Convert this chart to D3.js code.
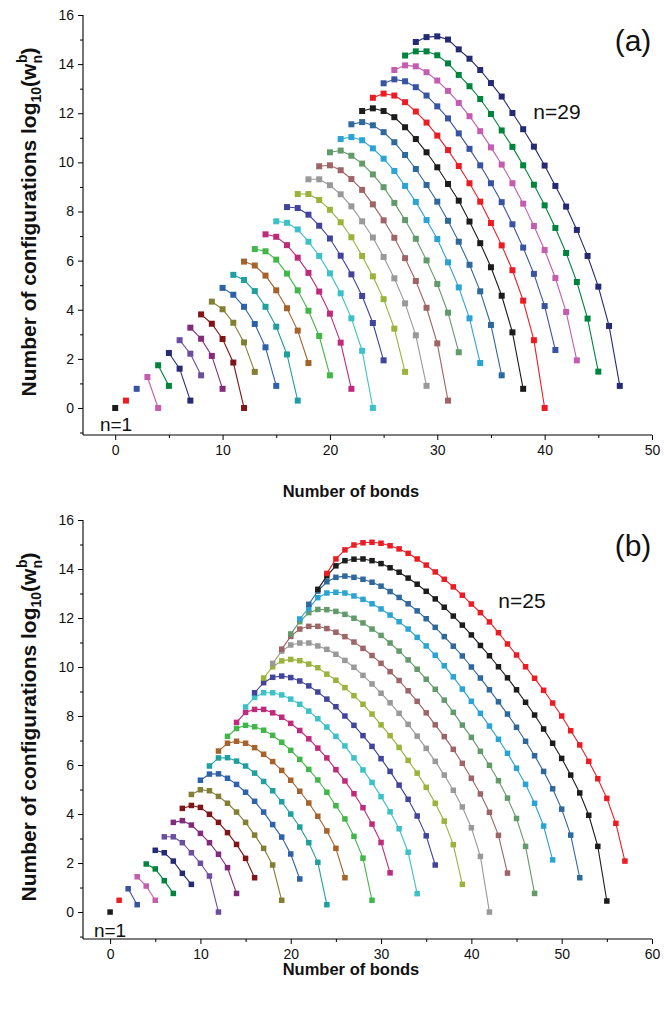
<!DOCTYPE html>
<html>
<head>
<meta charset="utf-8">
<script src="https://cdn.jsdelivr.net/npm/d3@7"></script>
<style>
  body { margin: 0; background: #fff; }
  svg { display: block; font-family: "Liberation Sans", Arial, sans-serif; }
</style>
</head>
<body>
<svg id="chart" width="664" height="1010"></svg>
<script>
// Colour cycle used for consecutive cluster sizes n = 1, 2, 3, ...
const palette = ["#1c1c1c", "#ed1c24", "#3953a4", "#c45cb0", "#00843d", "#252a74",
  "#6a4fa0", "#822a7c", "#7f1518", "#827f34", "#2e62a8", "#1fa09e", "#a5622a",
  "#41b649", "#bf2a7a", "#3cc1c8", "#40449a", "#99b33b", "#999999", "#9e6466",
  "#639a6a", "#2aa4d4", "#2f689c"];

// ---------- (a) square lattice, n = 1 ... 29 ----------
const sizesA = d3.range(1, 30);
const firstBondA = [0, 1, 2, 3, 4, 5, 6, 7, 8, 9, 10, 11, 12, 13, 14, 15, 16, 17, 18, 19,
  20, 21, 22, 23, 24, 25, 26, 27, 28];
const logCountsA = [
  [0],
  [0.30],
  [0.78],
  [1.26, 0],
  [1.74, 0.90],
  [2.24, 1.60, 0.30],
  [2.76, 2.21, 1.33],
  [3.27, 2.82, 2.12, 0.78],
  [3.81, 3.43, 2.81, 1.85, 0],
  [4.33, 4.02, 3.47, 2.67, 1.47],
  [4.89, 4.61, 4.12, 3.42, 2.47, 0.90],
  [5.42, 5.21, 4.76, 4.12, 3.31, 2.18, 0.30],
  [5.96, 5.80, 5.39, 4.79, 4.06, 3.15, 1.83],
  [6.47, 6.38, 6.04, 5.47, 4.79, 3.96, 2.93, 1.33],
  [7.07, 6.97, 6.63, 6.12, 5.50, 4.74, 3.84, 2.66, 0.78],
  [7.60, 7.54, 7.27, 6.77, 6.19, 5.48, 4.67, 3.65, 2.33, 0],
  [8.18, 8.14, 7.87, 7.42, 6.90, 6.20, 5.44, 4.56, 3.46, 1.94],
  [8.71, 8.71, 8.47, 8.07, 7.56, 6.95, 6.19, 5.36, 4.43, 3.23, 1.47],
  [9.31, 9.31, 9.07, 8.70, 8.21, 7.60, 6.94, 6.15, 5.28, 4.26, 2.96, 0.90],
  [9.84, 9.88, 9.68, 9.32, 8.88, 8.29, 7.64, 6.93, 6.10, 5.17, 4.08, 2.63, 0.30],
  [10.41, 10.48, 10.27, 9.95, 9.51, 8.99, 8.35, 7.65, 6.89, 6.01, 5.05, 3.88, 2.27],
  [10.95, 11.03, 10.90, 10.57, 10.15, 9.65, 9.04, 8.39, 7.65, 6.88, 5.93, 4.91, 3.65, 1.83],
  [11.55, 11.64, 11.51, 11.23, 10.82, 10.30, 9.73, 9.08, 8.40, 7.62, 6.77, 5.83, 4.75, 3.38, 1.33],
  [12.09, 12.20, 12.09, 11.84, 11.43, 10.95, 10.41, 9.80, 9.12, 8.44, 7.59, 6.71, 5.73, 4.57, 3.08, 0.78],
  [12.63, 12.80, 12.72, 12.45, 12.07, 11.62, 11.09, 10.50, 9.85, 9.15, 8.40, 7.53, 6.62, 5.61, 4.37, 2.76, 0],
  [13.22, 13.38, 13.30, 13.06, 12.72, 12.28, 11.79, 11.18, 10.55, 9.88, 9.15, 8.38, 7.48, 6.53, 5.46, 4.15, 2.36],
  [13.76, 13.95, 13.91, 13.67, 13.33, 12.91, 12.42, 11.88, 11.27, 10.61, 9.91, 9.15, 8.32, 7.41, 6.43, 5.29, 3.91, 1.94],
  [14.35, 14.52, 14.52, 14.36, 14.03, 13.56, 13.10, 12.58, 11.97, 11.30, 10.63, 9.88, 9.09, 8.25, 7.33, 6.31, 5.13, 3.64, 1.48],
  [14.90, 15.10, 15.13, 15.00, 14.60, 14.22, 13.76, 13.23, 12.68, 12.01, 11.35, 10.64, 9.87, 9.04, 8.20, 7.25, 6.19, 4.94, 3.34, 0.90]
];
const xTicksA = [0, 10, 20, 30, 40, 50];

// ---------- (b) triangular lattice, n = 1 ... 25 ----------
const sizesB = d3.range(1, 26);
const firstBondB = [0, 1, 2, 3, 4, 5, 6, 7, 8, 9, 10, 11, 12, 13, 14, 15, 16, 17, 18, 19,
  20, 21, 22, 23, 24];
const logCountsB = [
  [0],
  [0.48],
  [0.95, 0.30],
  [1.44, 1.06, 0.48],
  [1.96, 1.76, 1.28, 0.76],
  [2.52, 2.42, 2.08, 1.58, 1.13],
  [3.07, 3.07, 2.83, 2.42, 1.99, 1.47, 0],
  [3.66, 3.73, 3.55, 3.21, 2.83, 2.36, 1.81, 0.76],
  [4.23, 4.35, 4.27, 3.99, 3.66, 3.24, 2.76, 2.19, 1.40],
  [4.80, 4.99, 4.95, 4.72, 4.44, 4.08, 3.66, 3.14, 2.60, 1.92, 0.48],
  [5.38, 5.63, 5.64, 5.46, 5.21, 4.89, 4.52, 4.08, 3.57, 3.06, 2.37, 1.35],
  [5.96, 6.29, 6.30, 6.16, 5.96, 5.67, 5.33, 4.95, 4.50, 4.00, 3.47, 2.83, 2.03, 0.30],
  [6.57, 6.89, 6.97, 6.89, 6.71, 6.44, 6.14, 5.78, 5.38, 4.93, 4.45, 3.91, 3.31, 2.60, 1.40],
  [7.17, 7.49, 7.62, 7.56, 7.42, 7.21, 6.93, 6.60, 6.23, 5.82, 5.39, 4.89, 4.34, 3.80, 3.09, 2.20, 0.48],
  [7.74, 8.15, 8.27, 8.27, 8.13, 7.95, 7.70, 7.41, 7.07, 6.69, 6.29, 5.81, 5.35, 4.83, 4.26, 3.59, 2.84, 1.60],
  [8.37, 8.76, 8.95, 8.95, 8.86, 8.69, 8.48, 8.20, 7.89, 7.55, 7.17, 6.78, 6.29, 5.80, 5.29, 4.71, 4.09, 3.40, 2.44, 0.75],
  [8.95, 9.36, 9.58, 9.63, 9.57, 9.43, 9.23, 8.98, 8.69, 8.38, 8.00, 7.62, 7.20, 6.76, 6.26, 5.74, 5.18, 4.60, 3.92, 3.11, 1.92],
  [9.55, 10.01, 10.25, 10.31, 10.26, 10.12, 9.97, 9.71, 9.46, 9.16, 8.83, 8.48, 8.08, 7.64, 7.20, 6.72, 6.19, 5.67, 5.09, 4.44, 3.71, 2.75, 1.13],
  [10.15, 10.65, 10.90, 10.98, 10.98, 10.86, 10.72, 10.52, 10.27, 9.99, 9.66, 9.31, 8.93, 8.54, 8.11, 7.66, 7.18, 6.68, 6.15, 5.59, 4.97, 4.29, 3.44, 2.27, 0],
  [10.73, 11.25, 11.55, 11.66, 11.66, 11.57, 11.42, 11.24, 11.02, 10.76, 10.47, 10.15, 9.81, 9.45, 9.03, 8.60, 8.13, 7.64, 7.16, 6.64, 6.07, 5.46, 4.82, 4.07, 3.13, 1.59],
  [11.35, 11.85, 12.22, 12.35, 12.34, 12.27, 12.15, 11.99, 11.80, 11.55, 11.29, 10.98, 10.65, 10.29, 9.91, 9.50, 9.09, 8.65, 8.15, 7.63, 7.13, 6.56, 5.99, 5.36, 4.65, 3.82, 2.68, 0.76],
  [11.96, 12.40, 12.83, 13.02, 13.05, 13.02, 12.90, 12.76, 12.58, 12.37, 12.12, 11.85, 11.55, 11.21, 10.86, 10.48, 10.05, 9.60, 9.10, 8.60, 8.11, 7.59, 7.05, 6.48, 5.87, 5.21, 4.44, 3.51, 2.13],
  [12.56, 13.10, 13.48, 13.66, 13.71, 13.66, 13.58, 13.46, 13.30, 13.08, 12.84, 12.58, 12.29, 11.97, 11.62, 11.24, 10.85, 10.45, 10.00, 9.55, 9.07, 8.58, 8.08, 7.54, 6.97, 6.38, 5.74, 5.03, 4.20, 3.14, 1.40],
  [13.17, 13.72, 14.13, 14.34, 14.40, 14.41, 14.34, 14.22, 14.05, 13.87, 13.63, 13.38, 13.09, 12.78, 12.44, 12.08, 11.71, 11.31, 10.88, 10.46, 10.01, 9.56, 9.07, 8.56, 8.04, 7.47, 6.89, 6.27, 5.59, 4.86, 3.95, 2.68, 0.45],
  [13.82, 14.41, 14.78, 14.98, 15.07, 15.09, 15.05, 14.95, 14.82, 14.64, 14.41, 14.16, 13.88, 13.58, 13.27, 12.93, 12.57, 12.22, 11.84, 11.40, 10.94, 10.49, 10.01, 9.54, 9.05, 8.53, 8.00, 7.40, 6.82, 6.15, 5.44, 4.64, 3.62, 2.08]
];
const xTicksB = [0, 10, 20, 30, 40, 50, 60];

const yTicks = [0, 2, 4, 6, 8, 10, 12, 14, 16];

const svg = d3.select("#chart");

function drawPanel(cfg) {
  const g = svg.append("g");
  const x = d3.scaleLinear().domain(cfg.xDomain).range(cfg.xRange);
  const y = d3.scaleLinear().domain(cfg.yDomain).range(cfg.yRange);
  const [x0, x1] = cfg.xRange;
  const [yb, yt] = cfg.yRange;

  // minor ticks
  const xMinor = d3.range(0, cfg.xDomain[1] + 0.01, 5).filter(v => !cfg.xTicks.includes(v));
  const yMinor = d3.range(-1, 16.01, 1).filter(v => !yTicks.includes(v));

  const xAxis = g.append("g").attr("transform", `translate(0,${yb})`)
    .call(d3.axisBottom(x).tickValues(cfg.xTicks).tickSize(5).tickPadding(5).tickFormat(d3.format("d")));
  g.append("g").attr("transform", `translate(0,${yb})`)
    .call(d3.axisBottom(x).tickValues(xMinor).tickSize(3).tickFormat(""))
    .select(".domain").remove();
  const yAxis = g.append("g").attr("transform", `translate(${x0},0)`)
    .call(d3.axisLeft(y).tickValues(yTicks).tickSize(5).tickPadding(4).tickFormat(d3.format("d")));
  g.append("g").attr("transform", `translate(${x0},0)`)
    .call(d3.axisLeft(y).tickValues(yMinor).tickSize(3).tickFormat(""))
    .select(".domain").remove();

  g.selectAll(".domain").attr("stroke", "#000").attr("stroke-width", 1.1);
  xAxis.select(".domain").attr("d", `M${x0},0H${x1}`);
  yAxis.select(".domain").attr("d", `M0,${yb}V${yt}`);
  g.selectAll(".tick line").attr("stroke", "#000").attr("stroke-width", 1);
  g.selectAll(".tick text").attr("font-size", 14).attr("fill", "#111")
    .attr("font-family", "Liberation Sans, Arial, sans-serif");

  // series: one polyline with square markers per cluster size
  const s = cfg.marker;
  cfg.values.forEach((vals, i) => {
    const pts = vals.map((v, k) => [cfg.firstBond[i] + k, v]);
    const color = palette[i % palette.length];
    const sg = g.append("g").attr("class", "series n" + cfg.sizes[i]);
    sg.append("path")
      .attr("d", d3.line().x(d => x(d[0])).y(d => y(d[1]))(pts))
      .attr("fill", "none").attr("stroke", color).attr("stroke-width", 1.1);
    sg.selectAll("rect").data(pts).join("rect")
      .attr("x", d => x(d[0]) - s / 2).attr("y", d => y(d[1]) - s / 2)
      .attr("width", s).attr("height", s).attr("fill", color);
  });

  // axis titles
  g.append("text").attr("x", cfg.xTitlePos[0]).attr("y", cfg.xTitlePos[1])
    .attr("text-anchor", "middle").attr("font-weight", "bold").attr("font-size", 16.5)
    .attr("fill", "#111").text("Number of bonds");

  const yt2 = g.append("text")
    .attr("transform", `translate(${cfg.yTitlePos[0]},${cfg.yTitlePos[1]}) rotate(-90)`)
    .attr("text-anchor", "middle").attr("font-weight", "bold").attr("font-size", 21)
    .attr("fill", "#111");
  yt2.append("tspan").text("Number of configurations log");
  yt2.append("tspan").attr("font-size", 14).attr("dy", 5).text("10");
  yt2.append("tspan").attr("dy", -5).text("(w");
  yt2.append("tspan").attr("font-size", 14).attr("dy", 6).text("n");
  yt2.append("tspan").attr("font-size", 14).attr("dx", -8).attr("dy", -15).text("b");
  yt2.append("tspan").attr("dy", 9).text(")");

  // annotations
  g.append("text").attr("x", cfg.panelLabelPos[0]).attr("y", cfg.panelLabelPos[1])
    .attr("text-anchor", "middle").attr("font-size", 30).attr("fill", "#111").text(cfg.panelLabel);
  g.append("text").attr("x", cfg.firstLabelPos[0]).attr("y", cfg.firstLabelPos[1])
    .attr("text-anchor", "middle").attr("font-size", 19).attr("fill", "#111").text("n=1");
  g.append("text").attr("x", cfg.lastLabelPos[0]).attr("y", cfg.lastLabelPos[1])
    .attr("text-anchor", "middle").attr("font-size", 21).attr("fill", "#111")
    .text("n=" + cfg.sizes[cfg.sizes.length - 1]);
}

drawPanel({
  sizes: sizesA, firstBond: firstBondA, values: logCountsA, xTicks: xTicksA,
  xDomain: [-3, 50], yDomain: [-1.1, 16], xRange: [83, 652], yRange: [435, 15],
  marker: 6,
  xTitlePos: [351, 497], yTitlePos: [36, 222],
  panelLabel: "(a)", panelLabelPos: [633, 51],
  firstLabelPos: [116, 431], lastLabelPos: [557, 119]
});

drawPanel({
  sizes: sizesB, firstBond: firstBondB, values: logCountsB, xTicks: xTicksB,
  xDomain: [-3, 60], yDomain: [-1.1, 16], xRange: [83, 652], yRange: [939, 520],
  marker: 5.5,
  xTitlePos: [351, 975], yTitlePos: [36, 727],
  panelLabel: "(b)", panelLabelPos: [633, 556],
  firstLabelPos: [110, 937], lastLabelPos: [522, 608]
});
</script>
</body>
</html>
